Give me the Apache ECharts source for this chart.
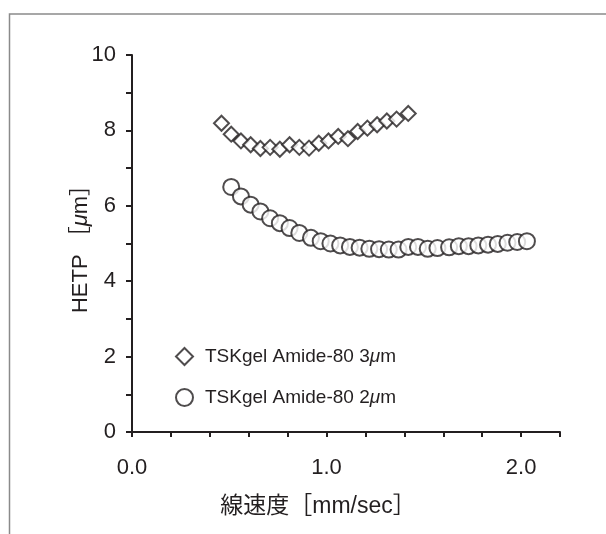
<!DOCTYPE html>
<html>
<head>
<meta charset="utf-8">
<script src="https://cdn.jsdelivr.net/npm/echarts@6/dist/echarts.min.js"></script>
<style>
  html, body { margin: 0; padding: 0; background: #fff; }
  #chart { width: 606px; height: 534px; }
</style>
</head>
<body>
<div id="chart"></div>
<script>
// Linear velocity [mm/sec] and HETP [μm] for the two TSKgel Amide-80 columns
const amide3Velocity = [0.46, 0.51, 0.56, 0.61, 0.66, 0.71, 0.76, 0.81, 0.86, 0.91,
                        0.96, 1.01, 1.06, 1.11, 1.16, 1.21, 1.26, 1.31, 1.36, 1.42];
const amide3Hetp     = [8.19, 7.90, 7.72, 7.62, 7.52, 7.55, 7.50, 7.62, 7.55, 7.53,
                        7.66, 7.72, 7.84, 7.78, 7.97, 8.06, 8.15, 8.25, 8.30, 8.45];

const amide2Velocity = [0.51, 0.56, 0.61, 0.66, 0.71, 0.76, 0.81, 0.86, 0.92, 0.97,
                        1.02, 1.07, 1.12, 1.17, 1.22, 1.27, 1.32, 1.37, 1.42, 1.47,
                        1.52, 1.57, 1.63, 1.68, 1.73, 1.78, 1.83, 1.88, 1.93, 1.98, 2.03];
const amide2Hetp     = [6.50, 6.25, 6.03, 5.85, 5.67, 5.54, 5.41, 5.28, 5.15, 5.06,
                        5.00, 4.95, 4.91, 4.89, 4.86, 4.85, 4.84, 4.84, 4.91, 4.91,
                        4.86, 4.88, 4.90, 4.93, 4.93, 4.95, 4.97, 4.99, 5.02, 5.04, 5.06];

const seriesNames = ['TSKgel Amide-80 3μm', 'TSKgel Amide-80 2μm'];
const xTickLabels = ['0.0', '1.0', '2.0'];
const yTickLabels = ['0', '2', '4', '6', '8', '10'];

const FONT = '"Liberation Sans", Arial, "Noto Sans CJK JP", sans-serif';
const INK = '#231f20';

function pairs(xs, ys) { return xs.map((x, i) => [x, ys[i]]); }

// Split a label so that the μ is set in italics
function italicMu(text) {
  const i = text.indexOf('μ');
  if (i < 0) return text;
  return text.slice(0, i) + '{mu|μ}' + text.slice(i + 1);
}

const chart = echarts.init(document.getElementById('chart'), null, { renderer: 'canvas' });

chart.setOption({
  animation: false,
  backgroundColor: '#fff',
  graphic: [{
    type: 'rect',
    shape: { x: 9.5, y: 14, width: 620, height: 560 },
    style: { fill: 'none', stroke: '#8a8a8a', lineWidth: 1.5 },
    silent: true
  }],
  grid: { left: 132, right: 46, top: 55, bottom: 102, containLabel: false },
  legend: {
    orient: 'vertical',
    left: 170,
    top: 342,
    itemGap: 22,
    itemWidth: 17,
    itemHeight: 17,
    data: [
      { name: seriesNames[0], icon: 'diamond' },
      { name: seriesNames[1], icon: 'circle' }
    ],
    formatter: name => italicMu(name),
    textStyle: {
      fontFamily: FONT, fontSize: 19, color: INK, padding: [0, 0, 0, 7],
      rich: { mu: { fontFamily: FONT, fontSize: 19, fontStyle: 'italic', color: INK } }
    }
  },
  xAxis: {
    type: 'value',
    min: 0, max: 2.2, interval: 0.2,
    name: '線速度［mm/sec］',
    nameLocation: 'middle',
    nameGap: 63,
    nameMoveOverlap: false,
    nameTextStyle: { fontFamily: FONT, fontSize: 23, color: INK, padding: [0, 56, 0, 0] },
    axisLine: { show: true, onZero: false, lineStyle: { color: INK, width: 2 } },
    axisTick: { show: true, inside: false, length: 5, lineStyle: { color: INK, width: 2 } },
    axisLabel: {
      margin: 25,
      fontFamily: FONT, fontSize: 22, color: INK,
      formatter: v => {
        const k = Math.round(v * 5);
        return k % 5 === 0 ? xTickLabels[k / 5] : '';
      }
    },
    splitLine: { show: false }
  },
  yAxis: {
    type: 'value',
    min: 0, max: 10, interval: 1,
    name: italicMu('HETP ［μm］'),
    nameLocation: 'middle',
    nameGap: 40,
    nameMoveOverlap: false,
    nameTextStyle: {
      fontFamily: FONT, fontSize: 22, color: INK,
      rich: { mu: { fontFamily: FONT, fontSize: 22, fontStyle: 'italic', color: INK } }
    },
    axisLine: { show: true, lineStyle: { color: INK, width: 2 } },
    axisTick: { show: true, inside: false, length: 6, lineStyle: { color: INK, width: 2 } },
    axisLabel: {
      margin: 16,
      fontFamily: FONT, fontSize: 22, color: INK,
      formatter: v => (Math.round(v) % 2 === 0 ? yTickLabels[Math.round(v) / 2] : '')
    },
    splitLine: { show: false }
  },
  series: [
    {
      name: seriesNames[0],
      type: 'scatter',
      symbol: 'diamond',
      symbolSize: 15,
      data: pairs(amide3Velocity, amide3Hetp),
      itemStyle: { color: '#fff', borderColor: INK, borderWidth: 2 },
      z: 3
    },
    {
      name: seriesNames[1],
      type: 'scatter',
      symbol: 'circle',
      symbolSize: 16,
      data: pairs(amide2Velocity, amide2Hetp),
      itemStyle: { color: '#fff', borderColor: INK, borderWidth: 2 },
      z: 2
    }
  ]
});
</script>
</body>
</html>
